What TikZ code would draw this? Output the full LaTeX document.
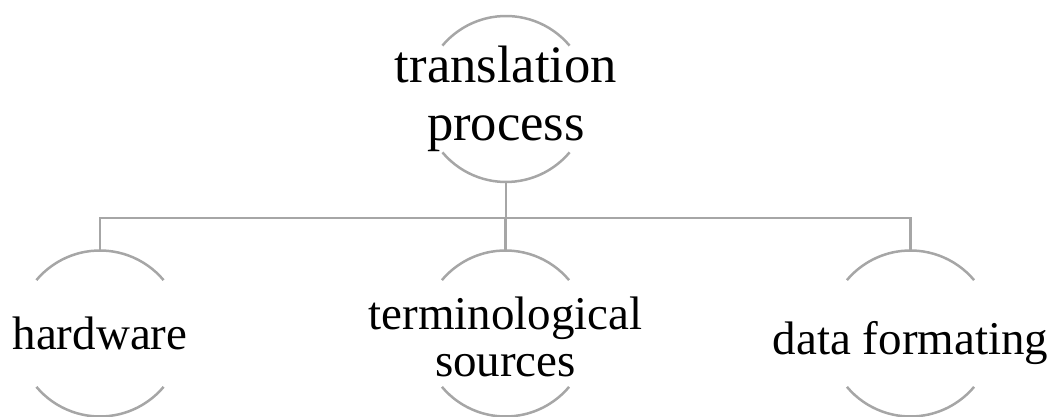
\documentclass[tikz,border=0pt]{standalone}
\usepackage{fontspec}
\setmainfont{Liberation Serif}
\definecolor{lineGrey}{HTML}{A6A6A6}
\newcommand{\openCircle}[1]{%%
  %% Upper and lower arcs round the centre #1; the sides stay open for the text.
  \draw[arcStyle] ([shift={(40:\radius)}]#1) arc[start angle=40,end angle=140,radius=\radius];
  \draw[arcStyle] ([shift={(220:\radius)}]#1) arc[start angle=220,end angle=320,radius=\radius];
}

\begin{document}
\begin{tikzpicture}[%%
  x=1pt,y=1pt,
  lineStyle/.style={-,draw=lineGrey,line width=2.5pt},%%
  arcStyle/.style={lineStyle},%%
  textStyle/.style={inner sep=0pt,align=center,text=black},%%
  topFont/.style={font=\fontsize{52.6}{58}\selectfont},%%
  leafFont/.style={font=\fontsize{47}{47}\selectfont}
]
%%
%%
\useasboundingbox (0,0) rectangle (1052,417);
\pgfmathsetmacro{\radius}{83}
%% Centres of the four circles.
\coordinate (transC) at (506,318);
\coordinate (hwC) at (100,83.5);
\coordinate (termC) at (505.5,83.5);
\coordinate (fmtC) at (910.5,83.5);
\coordinate (bar) at (506,199);
%%
%% Text of the circles.
\node[textStyle,topFont] (trans) at (transC) {translation\\process};
\node[textStyle,leafFont] (hw) at (hwC) {hardware};
\node[textStyle,leafFont,yshift=-3pt] (term) at (termC) {terminological\\sources};
\node[textStyle,leafFont,yshift=-10pt] (fmt) at (fmtC) {data formating};
%%
%% Draw the open circles.
\openCircle{transC}
\openCircle{hwC}
\openCircle{termC}
\openCircle{fmtC}
%%
%% Connect the top circle with the three below.
\draw[lineStyle] ([yshift=-\radius]transC) -- (bar);
\draw[lineStyle] ([yshift=\radius]hwC) |- (bar) -| ([yshift=\radius]fmtC);
\draw[lineStyle] ([yshift=\radius]termC) -- (termC |- bar);
\end{tikzpicture}
\end{document}
